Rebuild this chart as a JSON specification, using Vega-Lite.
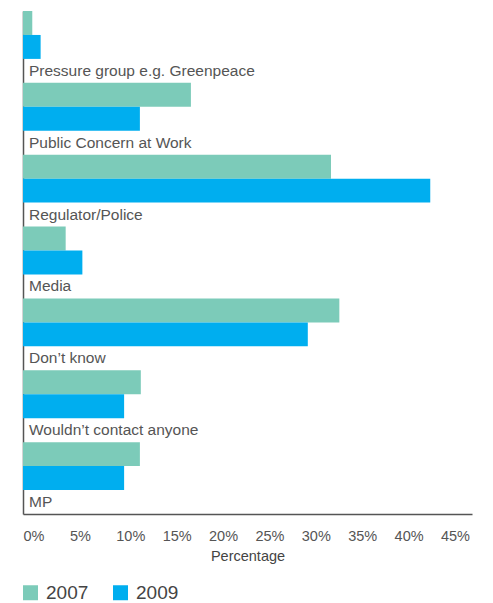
{
  "$schema": "https://vega.github.io/schema/vega-lite/v6.json",
  "width": 449,
  "height": 503,
  "autosize": {"type": "none"},
  "padding": {"left": 23, "top": 11, "right": 21, "bottom": 89},
  "background": "white",
  "config": {
    "view": {"stroke": null},
    "font": "Liberation Sans"
  },
  "datasets": {
    "bars": [
      {"category": "Pressure group e.g. Greenpeace", "year": "2007", "value": 1.0},
      {"category": "Pressure group e.g. Greenpeace", "year": "2009", "value": 1.9},
      {"category": "Public Concern at Work", "year": "2007", "value": 18.1},
      {"category": "Public Concern at Work", "year": "2009", "value": 12.6},
      {"category": "Regulator/Police", "year": "2007", "value": 33.2},
      {"category": "Regulator/Police", "year": "2009", "value": 43.9},
      {"category": "Media", "year": "2007", "value": 4.6},
      {"category": "Media", "year": "2009", "value": 6.4},
      {"category": "Don’t know", "year": "2007", "value": 34.1},
      {"category": "Don’t know", "year": "2009", "value": 30.7},
      {"category": "Wouldn’t contact anyone", "year": "2007", "value": 12.7},
      {"category": "Wouldn’t contact anyone", "year": "2009", "value": 10.9},
      {"category": "MP", "year": "2007", "value": 12.6},
      {"category": "MP", "year": "2009", "value": 10.9}
    ],
    "labels": [
      {"category": "Pressure group e.g. Greenpeace", "slot": "label"},
      {"category": "Public Concern at Work", "slot": "label"},
      {"category": "Regulator/Police", "slot": "label"},
      {"category": "Media", "slot": "label"},
      {"category": "Don’t know", "slot": "label"},
      {"category": "Wouldn’t contact anyone", "slot": "label"},
      {"category": "MP", "slot": "label"}
    ]
  },
  "layer": [
    {
      "data": {"name": "bars"},
      "mark": {"type": "bar", "cornerRadius": 0},
      "encoding": {
        "y": {
          "field": "category",
          "type": "nominal",
          "scale": {"domain": ["Pressure group e.g. Greenpeace", "Public Concern at Work", "Regulator/Police", "Media", "Don’t know", "Wouldn’t contact anyone", "MP"], "paddingInner": 0, "paddingOuter": 0},
          "axis": {"labels": false, "ticks": false, "title": null, "domainColor": "#555555", "domainWidth": 1.5}
        },
        "yOffset": {
          "field": "year",
          "type": "nominal",
          "scale": {"domain": ["2007", "2009", "label"], "paddingInner": 0, "paddingOuter": 0}
        },
        "x": {
          "field": "value",
          "type": "quantitative",
          "scale": {"domain": [0, 48.4], "nice": false},
          "axis": {
            "values": [0, 5, 10, 15, 20, 25, 30, 35, 40, 45],
            "labelExpr": "datum.value + '%'",
            "labelAlign": "left",
            "labelBaseline": "top",
            "labelPadding": 15,
            "labelFontSize": 14.5,
            "labelColor": "#555555",
            "labelFlush": false,
            "ticks": false,
            "grid": false,
            "domainColor": "#555555",
            "domainWidth": 1.5,
            "title": "Percentage",
            "titleFontSize": 14.5,
            "titleFontWeight": "normal",
            "titleColor": "#444444",
            "titlePadding": 7
          }
        },
        "color": {
          "field": "year",
          "type": "nominal",
          "scale": {"domain": ["2007", "2009"], "range": ["#7ccbb9", "#00aeef"]},
          "legend": {
            "title": null,
            "orient": "none",
            "legendX": -2,
            "legendY": 572,
            "direction": "horizontal",
            "symbolType": "square",
            "symbolSize": 225,
            "symbolStrokeWidth": 0,
            "labelFontSize": 19,
            "labelColor": "#444444",
            "labelOffset": 6,
            "columnPadding": 22
          }
        }
      }
    },
    {
      "data": {"name": "labels"},
      "mark": {"type": "text", "align": "left", "baseline": "middle", "dx": 6, "fontSize": 15.5, "color": "#555555"},
      "encoding": {
        "y": {"field": "category", "type": "nominal"},
        "yOffset": {"field": "slot", "type": "nominal"},
        "x": {"datum": 0, "type": "quantitative"},
        "text": {"field": "category", "type": "nominal"}
      }
    }
  ]
}
